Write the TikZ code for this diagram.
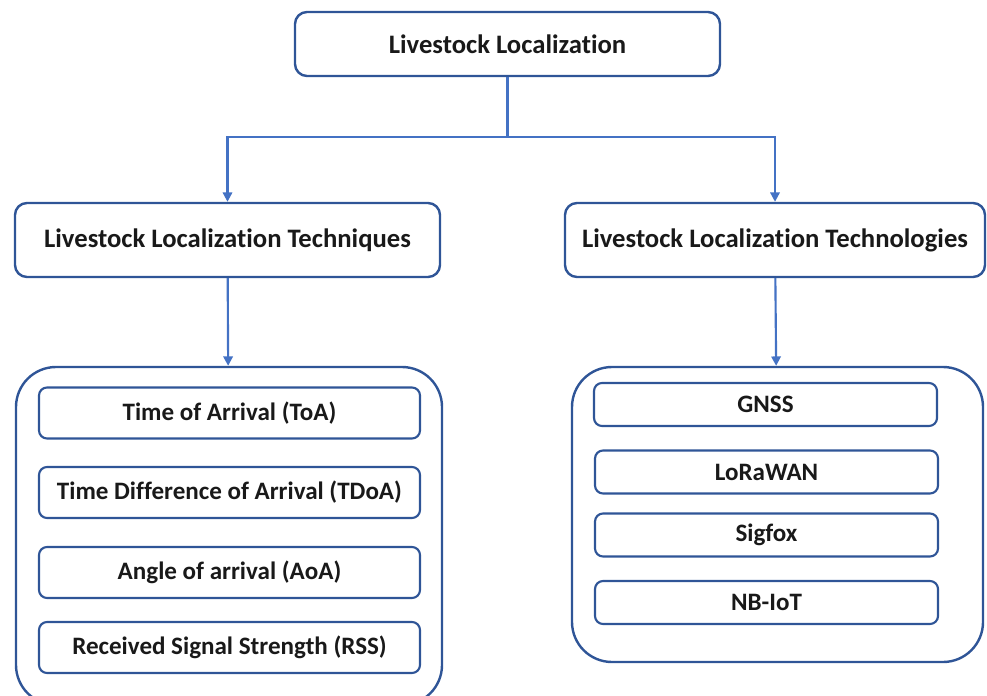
\documentclass[tikz,border=0pt]{standalone}
\usepackage{fontspec}
\setmainfont{Carlito}[RawFeature={-liga}]
\usepackage{xcolor}
\usetikzlibrary{arrows.meta}

\definecolor{boxblue}{HTML}{2F5597}
\definecolor{linkblue}{HTML}{4472C4}

\tikzset{
	mainbox/.style={draw=boxblue,line width=1.8pt,rounded corners=9pt,
		font=\bfseries\fontsize{20}{24}\selectfont,text=black!90},
	groupbox/.style={draw=boxblue,line width=1.8pt,rounded corners=30pt},
	itembox/.style={draw=boxblue,line width=1.6pt,rounded corners=6pt,
		font=\bfseries\fontsize{18.8}{22}\selectfont,text=black!90},
	link/.style={draw=linkblue,line width=1.6pt,-{Triangle[length=7pt,width=7pt]}}
}

\begin{document}
\begin{tikzpicture}[x=0.75pt,y=-0.75pt]
	\useasboundingbox (0,0) rectangle (987,695);
	% main nodes
	\node[mainbox,minimum width=318.75pt,minimum height=48pt] (top) at (507.5,44) {Livestock Localization};
	\node[mainbox,minimum width=318.75pt,minimum height=55.5pt] (tech) at (227.5,240) {Livestock Localization Techniques};
	\node[mainbox,minimum width=315pt,minimum height=55.5pt] (techno) at (775,240) {Livestock Localization Technologies};
	% group boxes
	\node[groupbox,minimum width=319.5pt,minimum height=253.5pt] (techgroup) at (229,536) {};
	\node[groupbox,minimum width=308.25pt,minimum height=221.25pt] (technogroup) at (777.5,514.5) {};
	% techniques
	\node[itembox,minimum width=285.75pt,minimum height=38.25pt] (toa) at (229.5,413) {Time of Arrival (ToA)};
	\node[itembox,minimum width=285.75pt,minimum height=38.25pt] (tdoa) at (229.5,492.5) {Time Difference of Arrival (TDoA)};
	\node[itembox,minimum width=285.75pt,minimum height=38.25pt] (aoa) at (229.5,572.5) {Angle of arrival (AoA)};
	\node[itembox,minimum width=285.75pt,minimum height=38.25pt] (rss) at (229.5,647.5) {Received Signal Strength (RSS)};
	% technologies
	\node[itembox,minimum width=257.25pt,minimum height=32.25pt] (gnss) at (765.5,404.5) {GNSS};
	\node[itembox,minimum width=257.25pt,minimum height=32.25pt] (lorawan) at (766.5,472) {LoRaWAN};
	\node[itembox,minimum width=257.25pt,minimum height=32.25pt] (sigfox) at (766.5,535) {Sigfox};
	\node[itembox,minimum width=257.25pt,minimum height=32.25pt] (nbiot) at (766.5,602.5) {NB-IoT};
	%
	\coordinate (split) at (507.5,137);
	\draw[draw=linkblue,line width=1.6pt] (top) -- (split);
	\draw[link] (split) -| (tech.north);
	\draw[link] (split) -| (techno.north);
	\draw[link] (tech) -- (techgroup);
	\draw[link] (techno) -- (technogroup);
\end{tikzpicture}
\end{document}
